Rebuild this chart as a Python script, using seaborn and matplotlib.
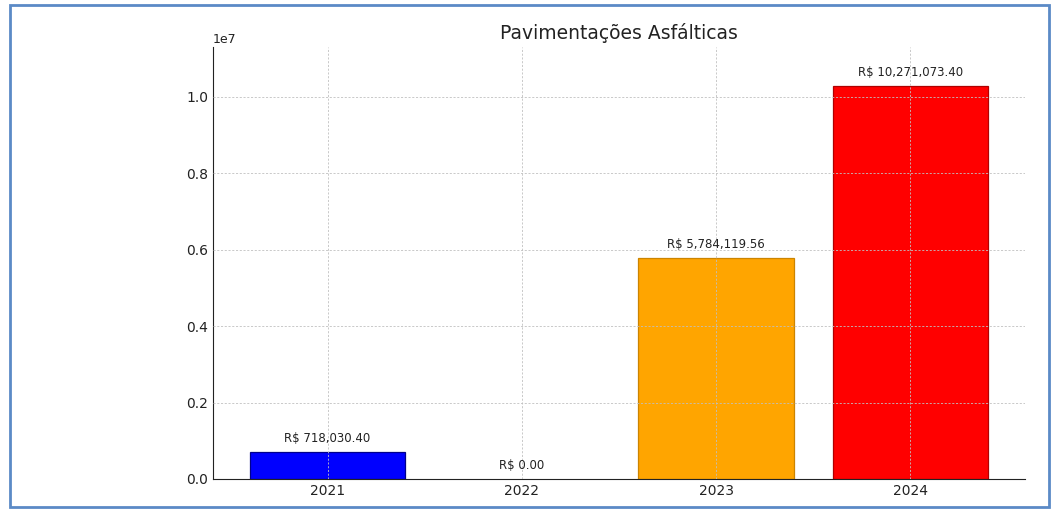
import matplotlib
matplotlib.use("Agg")
import matplotlib.pyplot as plt
import seaborn as sns
from matplotlib.patches import Rectangle

# dados
anos = ["2021", "2022", "2023", "2024"]
valores = [718030.40, 0.00, 5784119.56, 10271073.40]
cores = ["#0000ff", "#0000ff", "#ffa500", "#ff0000"]
bordas = ["#00008b", "none", "#cc8400", "#b00000"]
titulo = "Pavimentações Asfálticas"

sns.set_style("white")
plt.rcParams["font.family"] = ["DejaVu Sans"]

fig = plt.figure(figsize=(10.54, 5.12), dpi=100)
ax = fig.add_axes([0.202, 0.0645, 0.7705, 0.8435])

sns.barplot(x=anos, y=valores, hue=anos, palette=cores, legend=False,
            saturation=1, width=0.8, linewidth=0.9, ax=ax)
for barra, borda in zip(ax.patches, bordas):
    barra.set_edgecolor(borda)

for i, v in enumerate(valores):
    ax.annotate(f"R$ {v:,.2f}", (i, v), xytext=(0, 5), textcoords="offset points",
                ha="center", va="bottom", fontsize=8.5, color="#222222")

ax.set_xlim(-0.59, 3.59)
ax.set_ylim(0, max(valores) * 1.1)
ax.set_yticks([0, 2e6, 4e6, 6e6, 8e6, 1e7])
ax.set_title(titulo, fontsize=13.5, color="#222222", pad=6)
ax.grid(True, linestyle=(0, (2.5, 2)), linewidth=0.6, color="#c0c0c0")
ax.set_axisbelow(False)
ax.tick_params(axis="both", direction="in", length=4, labelsize=10, colors="#222222")
ax.yaxis.get_offset_text().set_fontsize(9)
sns.despine(ax=ax)
ax.spines["left"].set_color("#222222")
ax.spines["bottom"].set_color("#222222")

# moldura azul do print
fig.patches.append(Rectangle((10 / 1054, 5 / 512), 1039 / 1054, 502 / 512,
                             transform=fig.transFigure, fill=False,
                             edgecolor="#5b8ac6", linewidth=2))

fig.savefig("out.png", dpi=100)
